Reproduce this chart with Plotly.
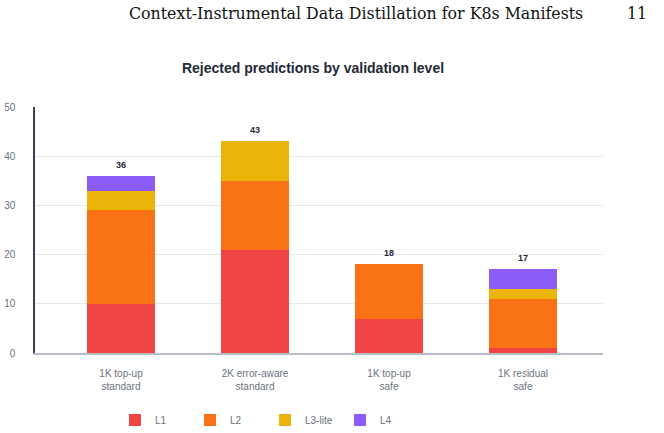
import plotly.graph_objects as go

categories = ["1K top-up<br>standard", "2K error-aware<br>standard", "1K top-up<br>safe", "1K residual<br>safe"]
levels = ["L1", "L2", "L3-lite", "L4"]
l1 = [10, 21, 7, 1]
l2 = [19, 14, 11, 10]
l3 = [4, 8, 0, 2]
l4 = [3, 0, 0, 4]
colors = ["#ef4444", "#f97316", "#eab308", "#8b5cf6"]

series = [l1, l2, l3, l4]
totals = [sum(v) for v in zip(*series)]

fig = go.Figure()
for name, vals, col in zip(levels, series, colors):
    fig.add_trace(go.Bar(x=list(range(len(categories))), y=vals, name=name,
                         marker=dict(color=col, line=dict(width=0)), width=0.505))

for i, t in enumerate(totals):
    fig.add_annotation(x=i, y=t, text=f"<b>{t}</b>", showarrow=False, yshift=11,
                       font=dict(size=9, color="#1f2937", family="Liberation Sans"))

fig.add_annotation(xref="paper", yref="paper", x=(127 - 35) / 568, y=1 + 94 / 246,
                   xanchor="left", yanchor="middle", showarrow=False,
                   text="Context-Instrumental Data Distillation for K8s Manifests",
                   font=dict(size=15.8, color="#111111", family="DejaVu Serif"))
fig.add_annotation(xref="paper", yref="paper", x=(649 - 35) / 568, y=1 + 94 / 246,
                   xanchor="right", yanchor="middle", showarrow=False, text="11",
                   font=dict(size=15.8, color="#111111", family="DejaVu Serif"))

fig.update_layout(
    width=664, height=433,
    margin=dict(l=35, r=61, t=107, b=80, autoexpand=False),
    paper_bgcolor="white", plot_bgcolor="white",
    barmode="stack",
    font=dict(family="Liberation Sans", color="#6b7280", size=10),
    title=dict(text="<b>Rejected predictions by validation level</b>", x=313 / 664, xanchor="center",
               y=1 - 68 / 433, yanchor="middle", font=dict(size=14, color="#1f2937")),
    xaxis=dict(tickvals=list(range(len(categories))), ticktext=categories, range=[-0.642, 3.597],
               showgrid=False, showline=True, linecolor="#b8bec8", linewidth=2, ticks="",
               ticklabelstandoff=10,
               tickfont=dict(size=10, color="#6b7280"), zeroline=False),
    yaxis=dict(range=[0, 50], dtick=10, showgrid=True, gridcolor="#e5e7eb", gridwidth=1,
               showline=True, linecolor="#374151", linewidth=1.5, zeroline=False,
               ticklabelstandoff=16, tickfont=dict(size=10, color="#6b7280")),
    legend=dict(orientation="h", x=(115 - 35) / 568, xanchor="left", y=-67 / 246, yanchor="middle",
                font=dict(size=10, color="#6b7280"), entrywidth=30, itemsizing="constant",
                traceorder="normal"),
    showlegend=True,
)

fig.write_html("out.html")
